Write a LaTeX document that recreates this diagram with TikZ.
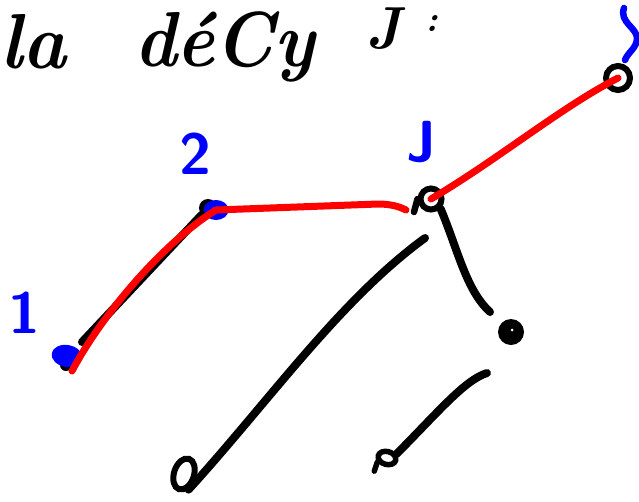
\documentclass[tikz,border=0pt]{standalone}
\usepackage{fontspec}
\usepackage{graphicx}
\usetikzlibrary{shapes.geometric}
\begin{document}
\begin{tikzpicture}[x=1pt,y=-1pt,
  ink/.style={line width=8pt, line cap=round, line join=round},
  blk/.style={ink, draw=black},
  redink/.style={ink, draw=red, line width=7pt},
  blueink/.style={ink, draw=blue, line width=6.5pt},
  lbl/.style={text=blue, font=\fontsize{58}{58}\selectfont\sffamily\bfseries, inner sep=0pt},
  ttl/.style={font=\fontsize{78}{78}\selectfont\bfseries\itshape, inner sep=0pt, anchor=base west},
  ttlsmall/.style={font=\fontsize{54}{54}\selectfont\bfseries\itshape, inner sep=0pt, anchor=base west},
  opennode/.style={circle, draw=black, line width=6pt, fill=white, minimum size=21pt, inner sep=0pt},
  blueblob/.style={ellipse, fill=blue, inner sep=0pt}
]
\useasboundingbox (0,0) rectangle (639,501);

% title
\node[ttl] (t1) at (0,68) {\scalebox{0.95}[1]{la}};
\node[ttl] (t2) at (134,66) {\scalebox{0.92}[1]{déCy}};
\node[ttlsmall] (t3) at (366,48) {\scalebox{1.05}[1.1]{J}};
\node[ttlsmall, font=\fontsize{36}{36}\selectfont\bfseries\itshape] (t4) at (425,31) {:};

% labels
\node[lbl] (l1) at (24,313) {1};
\node[lbl] (l2) at (195,154) {2};
\node[lbl] (l3) at (422,142) {J};

% nodes
\node[circle, fill=black, minimum size=12pt, inner sep=0pt] (n1k) at (66,365) {};
\node[blueblob, minimum width=31pt, minimum height=22pt, rotate=-10] (n1) at (67,356) {};
\node[circle, fill=black, minimum size=18pt, inner sep=0pt] (n2k) at (208,208) {};
\node[blueblob, minimum width=25pt, minimum height=20pt] (n2) at (216,210) {};
\node[opennode] (n3) at (431,199) {};
\node[opennode, minimum width=20pt, minimum height=24pt] (n4) at (618,78) {};
\node[circle, fill=black, minimum size=26pt, inner sep=0pt] (n5) at (511,332) {};
\node[circle, fill=white, minimum size=3pt, inner sep=0pt] (n5c) at (512,330) {};
\node[ellipse, draw=black, line width=6pt, minimum width=20pt, minimum height=32pt, rotate=-18] (n6) at (184,474) {};
\node[ellipse, draw=black, line width=5.5pt, minimum width=18pt, minimum height=13pt, rotate=-15] (n7) at (387,458) {};

% free ends
\coordinate (g23) at (406,210);
\coordinate (s36) at (425,238);
\coordinate (e35) at (490,312);
\coordinate (s57) at (487,373);
\coordinate (tick) at (414,212);

% black edges
\draw[blk] ([shift={(15,-14)}]n1.center) -- (n2k);
\draw[blk] (s36) .. controls (340,300) and (270,400) .. (n6.south east);
\draw[blk] (n3.south east) .. controls (458,250) and (466,290) .. (e35);
\draw[blk] (s57) .. controls (465,380) and (440,410) .. (n7.north east);
\draw[blk, line width=5.5pt] (n7.south west) -- ++(-3,9);
\draw[blk, line width=6.5pt] (tick) -- (n3.west);

% red path
\draw[redink] ([shift={(5,15)}]n1.center) .. controls (100,318) and (160,245) .. (n2.center);
\draw[redink] (n2.center) -- (378,204) .. controls (392,204) and (400,207) .. (g23);
\draw[redink] (n3.center) .. controls (500,158) and (560,108) .. (n4.center);

% top-right fragment
\draw[blueink] (624,8) .. controls (619,22) and (637,28) .. (637,38) .. controls (637,48) and (628,52) .. (625,60);
\end{tikzpicture}
\end{document}
